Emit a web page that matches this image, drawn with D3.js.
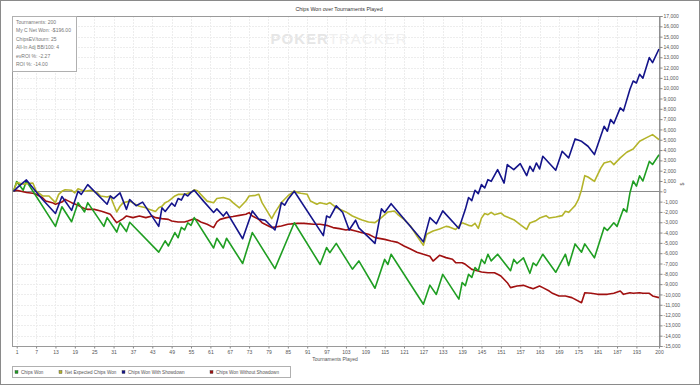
<!DOCTYPE html>
<html>
<head>
<meta charset="utf-8">
<script src="https://cdn.jsdelivr.net/npm/d3@7"></script>
<style>
body{margin:0;background:#fff;}
svg{display:block;font-family:"Liberation Sans",Arial,sans-serif;}
</style>
</head>
<body>
<svg id="chart" width="700" height="385"></svg>
<script>
// [tournament, value] points
var chipsWon = [[0,0],[1,950],[3,100],[4,1000],[13,-3400],[15,-1500],[18,-2950],[20,-1100],[22,-2000],[23,-1100],[28,-3400],[29,-2550],[32,-3950],[33,-3050],[35,-3900],[36,-3000],[45,-5900],[47,-4800],[48,-5300],[50,-4000],[51,-4500],[52,-3500],[53,-3750],[54,-3050],[55,-3300],[56,-2550],[62,-5500],[63,-4550],[65,-5500],[66,-4550],[71,-7000],[74,-4000],[81,-7500],[87,-3050],[95,-7100],[97,-5450],[98,-5950],[100,-5050],[105,-7550],[107,-6750],[112,-9400],[115,-6600],[116,-7100],[117,-6100],[127,-10950],[129,-9100],[131,-10000],[133,-8050],[138,-10450],[139,-8850],[140,-9150],[141,-8050],[142,-8350],[143,-7400],[144,-7700],[145,-6600],[146,-7000],[147,-6100],[148,-6750],[150,-6100],[154,-7700],[155,-6600],[156,-7000],[158,-6450],[160,-7950],[161,-6950],[162,-7200],[164,-6100],[168,-7850],[171,-6100],[172,-7200],[174,-5100],[176,-5900],[177,-5100],[180,-6450],[183,-3500],[184,-3800],[186,-3050],[187,-3400],[189,-1700],[190,-2000],[191,-150],[192,1000],[193,500],[194,1500],[195,1000],[197,2900],[198,2600],[200,3550]];

var netExpected = [[0,0],[1,850],[3,700],[6,800],[7,50],[9,-450],[11,-450],[13,-1100],[14,-300],[15,0],[16,150],[18,100],[19,-150],[20,250],[22,0],[24,100],[26,-150],[27,-450],[29,-550],[30,-450],[31,-1250],[32,-2000],[33,-1450],[34,-1100],[36,-950],[38,-1300],[39,-1450],[41,-1600],[42,-1750],[44,-1950],[45,-1600],[46,-1450],[47,-1100],[48,-950],[49,-700],[50,-450],[51,-300],[53,-300],[54,-200],[55,-100],[56,150],[57,50],[58,-300],[60,-950],[62,-1100],[63,-700],[65,-600],[67,-800],[68,-1100],[70,-1600],[72,-940],[73,-450],[75,-390],[76,-290],[77,-1100],[80,-2650],[81,-2070],[83,-1100],[84,-770],[85,-450],[87,30],[88,-130],[89,-190],[91,-290],[92,-940],[94,-1260],[95,-1100],[97,-1260],[98,-1100],[100,-1590],[103,-2000],[105,-2390],[107,-2650],[108,-2780],[110,-2970],[112,-3040],[114,-2550],[116,-2000],[118,-1910],[119,-2230],[121,-2720],[123,-3360],[125,-4330],[127,-5240],[128,-4170],[130,-3850],[132,-3650],[134,-3400],[135,-3450],[137,-3700],[138,-3360],[139,-3050],[141,-3300],[142,-3360],[143,-3110],[144,-3600],[145,-2600],[146,-2150],[147,-2270],[148,-2040],[149,-2270],[151,-2100],[152,-2360],[155,-2750],[157,-3240],[159,-3700],[160,-3070],[162,-2820],[163,-2590],[165,-2360],[166,-2590],[168,-2490],[170,-2360],[171,-1940],[172,-2040],[173,-1720],[174,-1390],[175,-810],[176,160],[177,1520],[178,1390],[180,970],[182,2270],[183,2750],[185,2910],[186,2590],[188,3240],[190,3790],[192,4110],[194,4850],[196,5180],[198,5500],[200,5020]];

var withShowdown = [[0,0],[1,300],[4,1100],[9,-800],[13,-2150],[15,-500],[18,-1850],[20,0],[21,-300],[23,650],[29,-1250],[30,-450],[31,-700],[33,-150],[35,-1750],[36,-800],[38,-1400],[40,-1050],[45,-3400],[46,-1600],[47,-1950],[49,-1150],[50,-1450],[51,-700],[52,-850],[53,-250],[54,-450],[55,-100],[56,100],[59,-1000],[62,-2050],[63,-1700],[65,-2400],[66,-2000],[71,-4600],[74,-1900],[76,-2700],[78,-2800],[81,-3750],[82,-2550],[83,-1100],[84,-1350],[85,-800],[87,0],[96,-4300],[97,-2400],[98,-2550],[100,-1400],[102,-2050],[104,-3750],[106,-2800],[107,-3550],[112,-5050],[114,-1700],[115,-2050],[117,-1200],[122,-3050],[127,-4900],[129,-2550],[131,-3150],[133,-1900],[138,-3600],[140,-1750],[141,-600],[142,-900],[143,100],[144,-230],[145,650],[146,320],[147,1130],[148,970],[150,2100],[152,800],[153,2590],[155,2100],[157,2690],[159,1520],[160,2430],[161,1940],[162,2750],[163,2170],[164,3400],[168,2040],[170,3880],[172,3240],[174,5080],[176,4850],[178,4370],[180,3560],[183,6310],[184,5830],[185,6960],[186,6570],[188,8090],[189,7800],[191,9900],[192,10700],[193,10500],[194,11350],[195,10970],[197,12970],[198,12480],[200,13800]];

var withoutShowdown = [[0,0],[1,100],[3,-50],[4,-120],[6,-190],[7,-290],[9,-620],[10,-940],[12,-1100],[13,-1260],[15,-1040],[16,-780],[18,-1100],[20,-1360],[22,-1680],[23,-1750],[25,-1750],[27,-1910],[28,-2000],[30,-2230],[31,-2650],[32,-3040],[34,-2650],[35,-2390],[37,-2550],[39,-2390],[41,-2550],[43,-2390],[44,-2550],[46,-2650],[48,-2720],[49,-2880],[51,-2970],[53,-2970],[54,-2880],[56,-2650],[57,-2780],[58,-2970],[60,-3200],[62,-3520],[63,-2970],[64,-2720],[66,-2550],[68,-2450],[70,-2330],[72,-2230],[73,-2070],[74,-2390],[76,-2720],[77,-3040],[79,-3360],[80,-3520],[83,-3360],[85,-3200],[88,-3110],[90,-3110],[93,-3200],[95,-3200],[97,-3300],[99,-3520],[101,-3620],[103,-3750],[104,-3690],[106,-3850],[108,-4010],[110,-4170],[112,-4490],[115,-4660],[117,-4820],[119,-4950],[121,-5300],[123,-5600],[125,-5900],[127,-6110],[129,-6300],[130,-6760],[132,-6210],[134,-6430],[136,-6590],[137,-6920],[139,-6920],[140,-7080],[142,-7570],[144,-7730],[145,-7830],[147,-7890],[149,-7890],[150,-8050],[151,-8210],[153,-8860],[154,-9340],[156,-9180],[158,-9120],[160,-9340],[161,-9440],[163,-9180],[164,-9340],[166,-9670],[167,-9890],[169,-10150],[171,-10150],[173,-10310],[176,-10800],[177,-9830],[179,-9890],[181,-9990],[184,-9990],[186,-9890],[188,-9670],[189,-9990],[191,-9830],[192,-9890],[194,-9830],[195,-9890],[197,-9890],[198,-10150],[200,-10310]];

var xTicks = [1,7,13,19,25,31,37,43,49,55,61,67,73,79,85,91,97,103,109,115,121,127,133,139,145,151,157,163,169,175,181,187,193,200];
var yTicks = d3.range(-15000, 17001, 1000);

var statLines = ["Tournaments: 200","My C Net Won: -$196.00","ChipsEV/tourn: 25","All-In Adj BB/100: 4","evROI %: -2.27","ROI %: -14.00"];

var series = [
	{name:"Chips Won", data:chipsWon, color:"#1f9e22"},
	{name:"Net Expected Chips Won", data:netExpected, color:"#b4b42a"},
	{name:"Chips Won With Showdown", data:withShowdown, color:"#14148a"},
	{name:"Chips Won Without Showdown", data:withoutShowdown, color:"#a01010"}
];
var drawOrder = [3,0,1,2];

var svg = d3.select("#chart");
var plotL = 12, plotR = 659, plotT = 16, plotB = 346;

var x = d3.scaleLinear().domain([0,200]).range([13.5,659]);
var y = d3.scaleLinear().domain([-15000,17000]).range([plotB,plotT]);

// outer frame
svg.append("rect").attr("x",0.5).attr("y",0.5).attr("width",699).attr("height",384)
	.attr("fill","#fff").attr("stroke","#8a8a8a");

svg.append("text").attr("x",339).attr("y",10.5).attr("text-anchor","middle")
	.attr("font-size",5.3).attr("fill","#333").text("Chips Won over Tournaments Played");

// watermark
var wm = svg.append("text").attr("x",339).attr("y",44).attr("text-anchor","middle")
	.attr("font-size",15).attr("font-weight","bold").attr("letter-spacing",1);
wm.append("tspan").attr("fill","#e6e6e6").text("POKER");
wm.append("tspan").attr("fill","#f0f0f0").attr("font-weight","normal").text("TRACKER");

// grid
svg.append("g").selectAll("line").data(yTicks).enter().append("line")
	.attr("x1",plotL).attr("x2",plotR).attr("y1",function(d){return Math.round(y(d))+0.5;}).attr("y2",function(d){return Math.round(y(d))+0.5;})
	.attr("stroke","#ededed").attr("stroke-dasharray","2,1");
svg.append("g").selectAll("line").data(xTicks).enter().append("line")
	.attr("y1",plotT).attr("y2",plotB).attr("x1",function(d){return Math.round(x(d))+0.5;}).attr("x2",function(d){return Math.round(x(d))+0.5;})
	.attr("stroke","#ededed").attr("stroke-dasharray","2,1");

// plot border
svg.append("rect").attr("x",plotL+0.5).attr("y",plotT+0.5).attr("width",plotR-plotL).attr("height",plotB-plotT)
	.attr("fill","none").attr("stroke","#9a9a9a");

// zero line
svg.append("line").attr("x1",plotL).attr("x2",plotR).attr("y1",Math.round(y(0))+0.5).attr("y2",Math.round(y(0))+0.5)
	.attr("stroke","#8c8c8c");

// stats box
svg.append("rect").attr("x",12.5).attr("y",16.5).attr("width",64).attr("height",55)
	.attr("fill","#fff").attr("stroke","#b0b0b0");
svg.append("g").selectAll("text").data(statLines).enter().append("text")
	.attr("x",16).attr("y",function(d,i){return 24+i*8.4;})
	.attr("font-size",5).attr("fill","#777").text(function(d){return d;});

// lines
var line = d3.line()
	.x(function(d){return x(d[0]);})
	.y(function(d){return y(d[1]);});

drawOrder.forEach(function(i){
	svg.append("path").attr("d",line(series[i].data))
		.attr("fill","none").attr("stroke",series[i].color)
		.attr("stroke-width",1.6).attr("stroke-linejoin","round");
});

// axes
var fmt = function(d){return d3.format(",")(d).replace("\u2212","-");};
var yAxis = d3.axisRight(y).tickValues(yTicks).tickSize(3).tickPadding(1).tickFormat(fmt);
var gy = svg.append("g").attr("transform","translate("+(plotR+0.5)+",0)").call(yAxis);
var xAxis = d3.axisBottom(x).tickValues(xTicks).tickSize(2).tickPadding(2);
var gx = svg.append("g").attr("transform","translate(0,"+(plotB+0.5)+")").call(xAxis);
[gy,gx].forEach(function(g){
	g.selectAll("text").attr("font-size",5).attr("fill","#555").attr("font-family","Liberation Sans, Arial, sans-serif");
	g.selectAll("line").attr("stroke","#888");
	g.select(".domain").attr("stroke","#888");
});
gx.select(".domain").remove();

svg.append("text").attr("x",335).attr("y",361).attr("text-anchor","middle")
	.attr("font-size",5).attr("fill","#555").text("Tournaments Played");

svg.append("text").attr("transform","translate(684,184) rotate(-90)").attr("text-anchor","middle")
	.attr("font-size",5).attr("fill","#555").text("$");

// legend
var legX = [15,59,122,210];
svg.append("rect").attr("x",12.5).attr("y",366.5).attr("width",278).attr("height",11)
	.attr("fill","#fff").attr("stroke","#b0b0b0");
var leg = svg.append("g").selectAll("g").data(series).enter().append("g")
	.attr("transform",function(d,i){return "translate("+legX[i]+",372)";});
leg.append("rect").attr("x",0).attr("y",-1.5).attr("width",3).attr("height",3)
	.attr("fill",function(d){return d.color;}).attr("stroke","#444").attr("stroke-width",0.4);
leg.append("text").attr("x",6).attr("y",1.8).attr("font-size",4.6).attr("fill","#555")
	.text(function(d){return d.name;});
</script>
</body>
</html>
